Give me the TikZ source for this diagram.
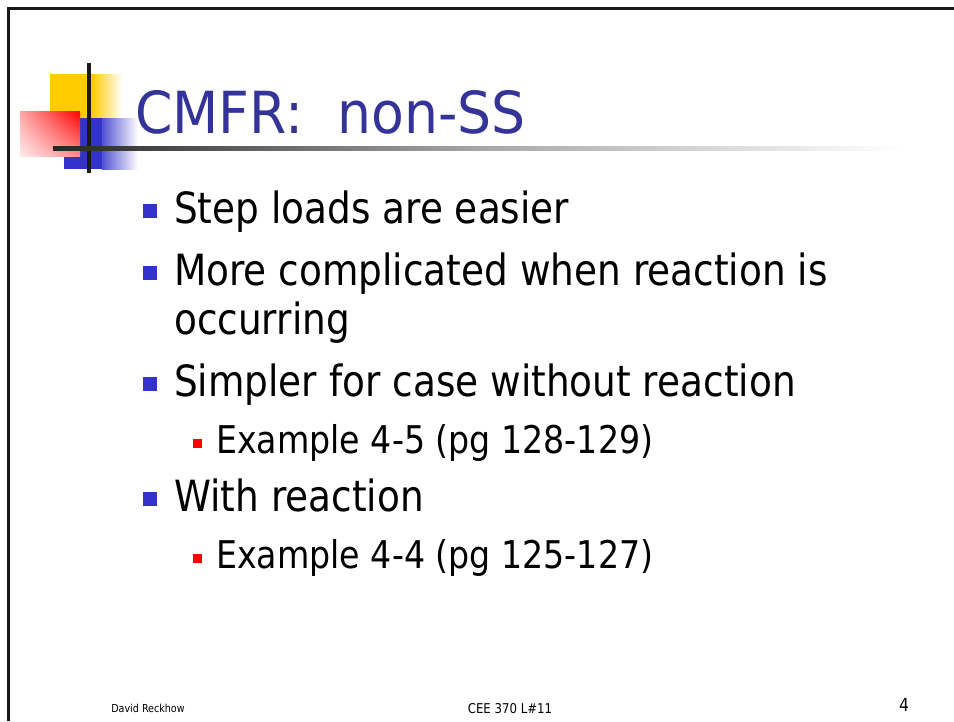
\documentclass[tikz,border=0pt]{standalone}
\usepackage{fontspec}
\setmainfont{DejaVu Sans}[FakeStretch = 0.87]
\newfontfamily\titlefont{DejaVu Sans}[FakeStretch = 0.925]
\usetikzlibrary{shadings}
\definecolor{titleblue}{HTML}{333399}
\definecolor{bulletblue}{HTML}{3333CC}
\definecolor{logoyellow}{HTML}{FFCC00}

\begin{document}
\begin{tikzpicture}[x = 1pt, y = -1pt,
	title/.style = {anchor = base west, inner sep = 0, text = titleblue, font = \titlefont\fontsize{58}{58}\selectfont},
	itemtext/.style = {anchor = base west, inner sep = 0, font = \fontsize{43}{43}\selectfont},
	subtext/.style = {anchor = base west, inner sep = 0, font = \fontsize{38.2}{38.2}\selectfont},
	bigbullet/.style = {fill = bulletblue, minimum size = 14pt, inner sep = 0},
	smallbullet/.style = {fill = red, minimum size = 9pt, inner sep = 0},
	footer/.style = {anchor = base, inner sep = 0}]

	\useasboundingbox (0, 0) rectangle (954, 721);

	% Frame

	\draw [line width = 3, black!90] (8, 721) -- (8, 8) -- (954, 8);

	% Logo

	\fill [logoyellow] (50, 74) rectangle (92, 118);
	\shade [left color = logoyellow, right color = white] (92, 74) rectangle (122, 118);
	\fill [bulletblue] (64, 118) rectangle (102, 169);
	\shade [left color = bulletblue!85, right color = white] (102, 118) rectangle (138, 169);
	\shade [upper right = red, upper left = red!35, lower left = red!8, lower right = red!45] (20, 111) rectangle (80, 156);
	\draw [line width = 4, black!90] (89, 63) -- (89, 173);
	\shade [left color = black!85, right color = white, middle color = black!35] (53, 146) rectangle (900, 150);

	% Title

	\node [title] (head) at (135, 133) {CMFR:~~non-SS};

	% Items

	\node [bigbullet] (b1) at (150, 211) {};
	\node [itemtext] (i1) at (174, 223) {Step loads are easier};
	\node [bigbullet] (b2) at (150, 273) {};
	\node [itemtext] (i2) at (174, 285) {More complicated when reaction is};
	\node [itemtext] (i2b) at (174, 334) {occurring};
	\node [bigbullet] (b3) at (150, 384) {};
	\node [itemtext] (i3) at (174, 396) {Simpler for case without reaction};
	\node [smallbullet] (s1b) at (197, 443) {};
	\node [subtext] (s1) at (216, 453) {Example 4-5 (pg 128-129)};
	\node [bigbullet] (b4) at (150, 499) {};
	\node [itemtext] (i4) at (174, 511) {With reaction};
	\node [smallbullet] (s2b) at (197, 558) {};
	\node [subtext] (s2) at (216, 568) {Example 4-4 (pg 125-127)};

	% Footer

	\node [footer, font = \fontsize{11}{11}\selectfont] (author) at (148, 712) {David Reckhow};
	\node [footer, font = \fontsize{13.5}{13.5}\selectfont] (course) at (510, 713) {CEE 370 L\#11};
	\node [footer, font = \fontsize{18}{18}\selectfont] (page) at (904, 711) {4};

\end{tikzpicture}
\end{document}
